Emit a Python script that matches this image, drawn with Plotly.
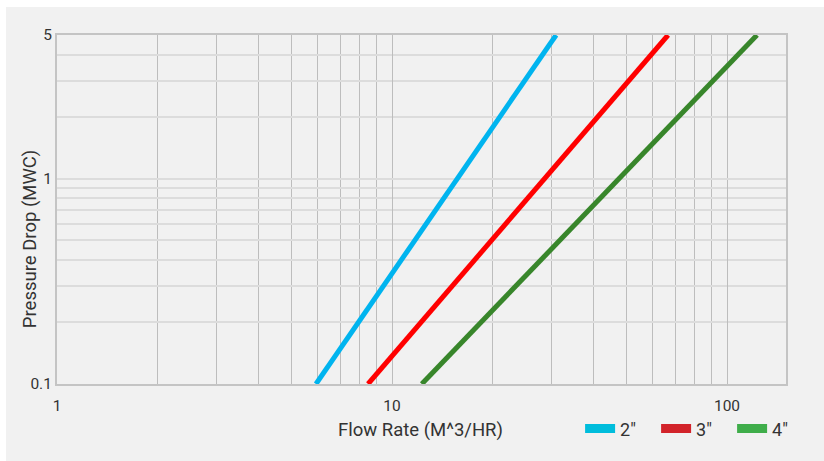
import plotly.graph_objects as go

# Data (log-log straight lines)
series_names = ['2″', '3″', '4″']
pressure_drop = [0.1, 5]            # MWC
flow_2in = [5.93, 30.9]             # M^3/HR
flow_3in = [8.48, 66.7]
flow_4in = [12.27, 122.9]
line_colors = ['#00b4ef', '#ff0000', '#38862b']
legend_colors = ['#00bddc', '#d2232a', '#3fad4a']

x_tickvals = [1, 10, 100]
x_ticktext = ['1', '10', '100']
y_tickvals = [0.1, 1, 5]
y_ticktext = ['0.1', '1', '5']
x_title = 'Flow Rate (M^3/HR)'
y_title = 'Pressure Drop (MWC)'

fig = go.Figure()
for name, xs, lc, gc in zip(series_names, [flow_2in, flow_3in, flow_4in], line_colors, legend_colors):
    fig.add_trace(go.Scatter(x=xs, y=pressure_drop, mode='lines', line=dict(color=lc, width=5),
                             showlegend=False, hoverinfo='skip'))
    fig.add_trace(go.Scatter(x=[None], y=[None], mode='lines', line=dict(color=gc, width=9),
                             name=name, showlegend=True))

font_family = 'Roboto, Liberation Sans, Arial, sans-serif'
fig.update_layout(
    width=824, height=461,
    margin=dict(l=57, r=38, t=35, b=77, autoexpand=False),
    paper_bgcolor='white',
    plot_bgcolor='#f1f1f1',
    font=dict(family=font_family, size=15.5, color='#333333'),
    shapes=[dict(type='rect', xref='paper', yref='paper', x0=-0.07, x1=1.2, y0=-0.3, y1=1.0802,
                 fillcolor='#f1f1f1', line=dict(width=0), layer='below')],
    annotations=[
        dict(text=x_title, xref='paper', yref='paper', x=0.498, y=-0.132, showarrow=False,
             xanchor='center', yanchor='middle', font=dict(size=18.5, color='#333333')),
        dict(text=y_title, xref='paper', yref='paper', x=-0.037, y=0.415, showarrow=False,
             xanchor='center', yanchor='middle', textangle=-90, font=dict(size=18.5, color='#333333')),
    ],
    legend=dict(orientation='h', xref='container', yref='container',
                x=0.704, xanchor='left', y=0.11, yanchor='top',
                entrywidth=31, entrywidthmode='pixels', font=dict(size=18),
                bgcolor='rgba(0,0,0,0)', itemwidth=30),
    xaxis=dict(type='log', range=[0, 2.1761], tickvals=x_tickvals, ticktext=x_ticktext,
               showgrid=True, gridcolor='#bdbdbd', gridwidth=1, automargin=False,
               minor=dict(dtick='D1', showgrid=True, gridcolor='#bdbdbd', gridwidth=1),
               showline=True, linecolor='#c4c4c4', linewidth=2, mirror=True,
               ticks='', zeroline=False, ticklabelstandoff=6),
    yaxis=dict(type='log', range=[-1, 0.69897], tickvals=y_tickvals, ticktext=y_ticktext,
               showgrid=True, gridcolor='#dcdcdc', gridwidth=2, automargin=False,
               minor=dict(dtick='D1', showgrid=True, gridcolor='#dcdcdc', gridwidth=2),
               showline=True, linecolor='#c4c4c4', linewidth=2, mirror=True,
               ticks='', zeroline=False),
)

fig.write_html('out.html', config={'displayModeBar': False},
               post_script="document.body.style.margin='0';")
